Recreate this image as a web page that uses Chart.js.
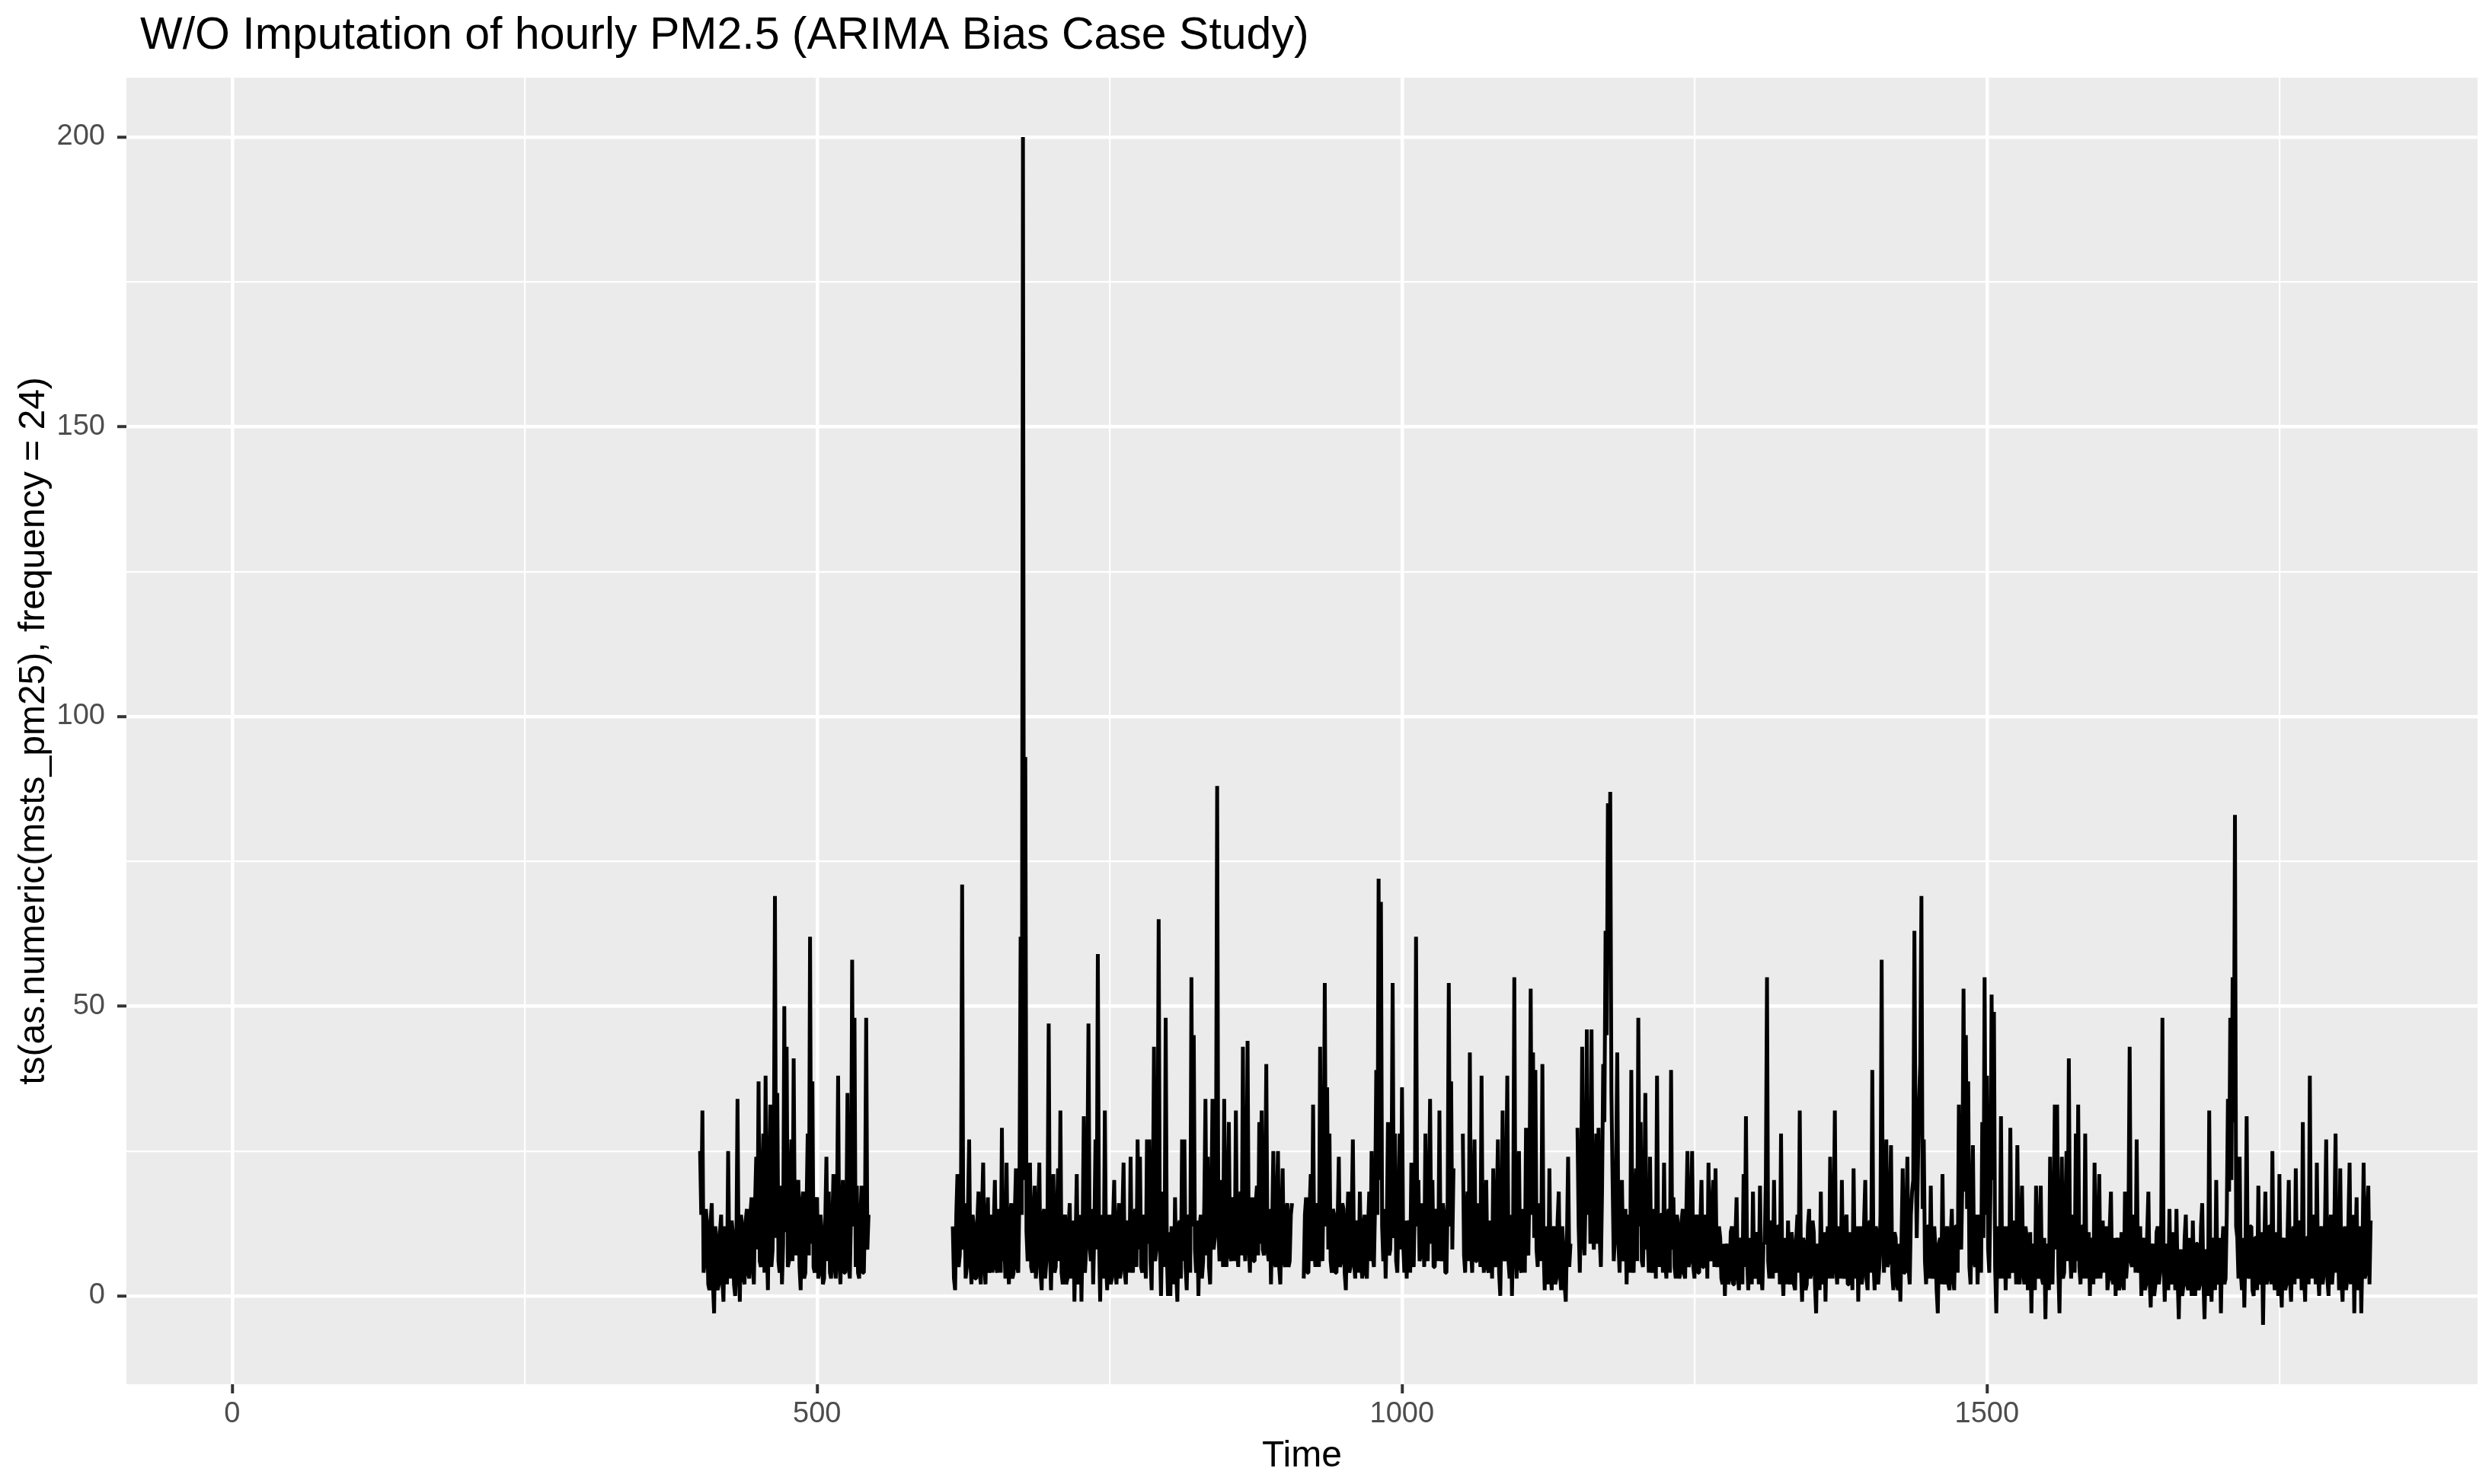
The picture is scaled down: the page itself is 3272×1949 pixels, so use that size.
<!doctype html>
<html>

<head>
    <meta charset="utf-8">
    <title>W/O Imputation of hourly PM2.5</title>
    <script src="https://cdn.jsdelivr.net/npm/chart.js"></script>
    <style>
        html, body { margin: 0; padding: 0; background: #fff; }
    </style>
</head>

<body>
    <canvas id="grafico" width="3272" height="1949"></canvas>

    <script>
        // textos
        var titulo = 'W/O Imputation of hourly PM2.5 (ARIMA Bias Case Study)';
        var tituloX = 'Time';
        var tituloY = 'ts(as.numeric(msts_pm25), frequency = 24)';

        // ticks (maiores com rotulo, menores so com linha)
        var ticksX = [0, 250, 500, 750, 1000, 1250, 1500, 1750];
        var rotulosX = [0, 500, 1000, 1500];
        var ticksY = [0, 25, 50, 75, 100, 125, 150, 175, 200];
        var rotulosY = [0, 50, 100, 150, 200];

        // serie: cada trecho tem inicio e um valor por unidade de tempo
        var passo = 1;

        var inicioA = 400;
        var serieA = [
            25, 14, 32, 4, 6, 15, 12, 2, 1, 13,
            16, 2, -3, 12, 10, 1, 2, 11, 14, 3,
            -1, 12, 9, 2, 25, 6, 3, 13, 11, 2,
            0, 8, 34, 5, -1, 14, 12, 3, 2, 13,
            15, 4, 3, 14, 17, 5, 2, 16, 24, 8,
            37, 6, 5, 19, 28, 4, 38, 9, 1, 18,
            33, 5, 8, 22, 69, 10, 35, 6, 4, 19,
            2, 9, 50, 11, 43, 5, 6, 18, 27, 6,
            41, 10, 7, 17, 20, 5, 1, 16, 18, 3,
            4, 15, 28, 7, 62, 9, 37, 5, 4, 16,
            17, 3, 4, 14, 11, 2, 3, 13, 24, 6,
            18, 4, 3, 12, 21, 5, 3, 14, 38, 6,
            2, 13, 20, 4, 4, 12, 35, 5, 3, 14,
            58, 12, 48, 5, 19, 4, 3, 13, 19, 4,
            4, 15, 48, 8, 14
        ];

        var inicioB = 616;
        var serieB = [
            12, 3, 1, 14, 21, 5, 7, 16, 71, 8,
            16, 3, 5, 15, 27, 6, 2, 14, 12, 3,
            3, 13, 18, 4, 2, 15, 23, 5, 2, 13,
            17, 4, 5, 14, 4, 12, 20, 5, 4, 15,
            12, 4, 29, 6, 10, 3, 23, 6, 2, 13,
            16, 3, 4, 14, 22, 5, 4, 18, 62, 14,
            200, 20, 93, 11, 6, 17, 23, 5, 4, 14,
            19, 3, 6, 15, 23, 4, 1, 13, 15, 3,
            6, 14, 47, 8, 1, 12, 21, 4, 5, 14,
            22, 6, 32, 4, 2, 13, 14, 2, 3, 12,
            16, 3, 5, 13, -1, 10, 21, 2, 4, 14,
            -1, 11, 31, 4, 8, 20, 47, 9, 6, 15,
            2, 11, 27, 8, 59, 10, -1, 14, 12, 3,
            32, 6, 1, 12, 14, 2, 3, 13, 20, 4,
            2, 12, 16, 3, 5, 14, 23, 4, 2, 13,
            12, 4, 24, 6, 4, 13, 15, 5, 27, 8,
            24, 5, 4, 14, 12, 3, 27, 9, 27, 6,
            1, 15, 43, 6, 8, 18, 65, 10, 0, 12,
            18, 5, 48, 7, 0, 11, 0, 12, 9, 2,
            17, 4, -1, 12, 13, 3, 27, 6, 27, 5,
            1, 13, 14, 4, 55, 12, 45, 8, 4, 13,
            0, 12, 14, 3, 6, 16, 34, 7, 24, 5,
            2, 15, 34, 8, 10, 22, 88, 12, 6, 16,
            20, 5, 34, 9, 5, 16, 30, 7, 6, 17,
            16, 6, 32, 8, 5, 15, 18, 7, 43, 10,
            6, 17, 44, 9, 4, 14, 17, 6, 6, 16,
            19, 7, 30, 9, 32, 8, 7, 18, 40, 8,
            6, 15, 2, 12, 25, 6, 5, 16, 25, 5,
            2, 13, 22, 6, 5, 15, 16, 5, 6, 14,
            16
        ];

        var inicioC = 916;
        var serieC = [
            3, 14, 17, 4, 4, 15, 21, 6, 33, 8,
            5, 16, 15, 5, 43, 9, 6, 20, 54, 12,
            36, 8, 28, 6, 4, 15, 14, 4, 4, 13,
            24, 5, 6, 16, 15, 4, 1, 12, 18, 4,
            5, 14, 27, 6, 3, 13, 12, 4, 18, 6,
            3, 12, 14, 4, 3, 12, 18, 6, 25, 7,
            5, 16, 39, 14, 72, 20, 68, 12, 6, 15,
            3, 12, 30, 7, 8, 19, 54, 10, 28, 6,
            4, 14, 28, 8, 36, 9, 4, 13, 3, 12,
            13, 4, 23, 7, 5, 16, 62, 12, 20, 6,
            7, 16, 12, 5, 28, 8, 6, 17, 34, 9,
            20, 5, 5, 15, 14, 6, 32, 8, 6, 16,
            14, 4, 4, 16, 54, 12, 37, 8, 22
        ];

        var inicioD = 1052;
        var serieD = [
            28, 7, 4, 14, 18, 6, 42, 8, 4, 15,
            27, 6, 6, 16, 12, 5, 38, 8, 4, 14,
            20, 5, 4, 13, 11, 3, 22, 6, 5, 15,
            27, 4, 0, 12, 32, 7, 6, 18, 38, 6,
            3, 14, 0, 12, 55, 9, 3, 14, 25, 5,
            4, 15, 13, 4, 29, 8, 7, 20, 53, 14,
            42, 10, 39, 8, 5, 16, 14, 6, 40, 8,
            1, 12, 10, 2, 22, 5, 1, 11, 12, 2,
            3, 13, 18, 4, 1, 12, 8, 2, -1, 10,
            24, 5, 9
        ];

        var inicioE = 1150;
        var serieE = [
            29, 12, 4, 16, 43, 10, 7, 18, 46, 14, 30, 9, 46, 12, 8, 17, 28, 9, 29, 10,
            5, 18, 40, 30, 63, 45, 85, 60, 87, 35, 20, 6, 10, 22, 42, 9, 4, 14, 20, 6,
            7, 15, 2, 12, 14, 4, 39, 8, 4, 15, 22, 6, 48, 12, 30, 6, 5, 16, 35, 8,
            10, 4, 24, 6, 4, 15, 12, 3, 38, 8, 5, 14, 14, 4, 23, 6, 3, 13, 15, 4,
            39, 8, 17, 5, 3, 14, 12, 3, 4, 13, 15, 4, 3, 14, 25, 5, 6, 16, 25, 5,
            3, 13, 14, 4, 4, 12, 20, 5, 5, 14, 13, 3, 23, 7, 6, 15, 20, 5, 22, 6,
            5, 12, 10, 3, 2, 9, 0, 8, 9, 2, 3, 11, 12, 2, 2, 10, 17, 4, 1, 9,
            10, 2, 21, 5, 31, 6, 1, 10, 8, 2, 18, 4, 3, 11, 10, 2, 19, 4, 1, 9,
            9, 20, 55, 6, 3, 13, 12, 3, 20, 5, 4, 12, 12, 2, 28, 5, 0, 10, 8, 2,
            13, 3, 2, 11, 9, 2, 1, 10, 14, 4, 32, 5, -1, 10, 9, 1, 2, 12, 15, 3,
            4, 13, 11, 2, -3, 9, 8, 1, 18, 4, 2, 11, -1, 9, 12, 3, 24, 6, 3, 12,
            32, 5, 2, 12, 10, 3, 20, 4, 3, 13, 14, 2, 2, 11, 9, 1, 22, 5, 3, 12,
            -1, 10, 12, 2, 4, 13, 20, 3, 1, 12, 13, 4, 39, 6, 1, 12, 11, 2, 5, 14,
            58, 10, 4, 14, 27, 5, 6, 16, 26, 4, 1, 11, 10, 2, 1, 9, -1, 10, 22, 4,
            4, 13, 24, 5, 2, 14, 18, 20, 63, 25, 10, 22, 34, 40, 69, 15, 27, 6, 2, 12,
            12, 3, 19, 4, 3, 12, 8, 1, -3, 9, 10, 2, 21, 4, 2, 11, 12, 2, 1, 10,
            15, 3, 1, 12, 12, 4, 33, 10, 8, 20, 53, 18, 45, 15, 37, 5, 2, 14, 26, 6,
            5, 14, 2, 10, 14, 4, 30, 10, 55, 14, 38, 8, 4, 18, 52, 20, 49, 5, -3, 9,
            12, 3, 31, 5, 3, 12, 1, 10, 12, 3, 29, 5, 4, 13, 10, 2, 26, 5, 2, 11,
            19, 4, 2, 12, 10, 1, 4, 11, -3, 9, 8, 1, 19, 4, 3, 12, 19, 3, 2, 10,
            -4, 8, 9, 1, 24, 4, 2, 13, 33, 8, 33, 5, -3, 10, 24, 3, 4, 14, 25, 6,
            41, 8, 3, 14, 12, 4, 28, 6, 33, 5, 2, 12, 12, 3, 28, 5, 3, 11, 0, 9,
            10, 2, 23, 4, 3, 12, 21, 3, 6, 13, 4, 11, 12, 1, 3, 12, 18, 3, 2, 10,
            0, 9, 10, 1, 2, 11, 8, 1, 18, 3, 6, 14, 43, 6, 5, 14, 12, 4, 27, 6,
            4, 12, 0, 9, 10, 1, 2, 11, 18, 3, -2, 8, 9, 0, 2, 11, 12, 2, 4, 13,
            48, 6, -1, 9, 8, 1, 15, 3, 2, 11, 9, 1, 15, 3, -4, 7, 8, 0, 2, 10,
            14, 2, 1, 10, 6, 0, 13, 3, 0, 9, 9, 1, 2, 12, 16, 3, -4, 7, 8, 0,
            32, 4, -1, 9, 10, 1, 20, 3, 2, 10, -3, 8, 12, 2, 3, 14, 34, 18, 48, 20,
            55, 30, 83, 12, 10, 3, 24, 4, 1, 10, -2, 8, 31, 4, 3, 12, 12, 1, 0, 10,
            10, 1, 19, 3, 2, 11, -5, 8, 18, 2, 3, 12, 12, 2, 25, 4, 1, 11, 8, 0,
            21, 3, -2, 9, 10, 1, 2, 11, 20, 3, -1, 10, 12, 2, 22, 4, 3, 13, 12, 1,
            30, 4, -1, 10, 10, 2, 38, 5, 3, 12, 14, 2, 23, 4, 0, 11, 12, 2, 4, 13,
            27, 3, 0, 11, 14, 2, 5, 13, 28, 4, 10, 1, 22, 3, -1, 10, 12, 1, 3, 13,
            23, 2, 6, 14, -3, 9, 17, 1, 2, 12, -3, 8, 23, 3, 4, 14, 19, 2, 13
        ];

        var trechos = [
            [inicioA, serieA],
            [inicioB, serieB],
            [inicioC, serieC],
            [inicioD, serieD],
            [inicioE, serieE]
        ];

        // monta os pontos; um null entre trechos quebra a linha (NA da serie)
        var pontos = [];
        trechos.forEach(function (trecho, k) {
            if (k > 0) {
                pontos.push({ x: trecho[0] - 0.5, y: null });
            }
            trecho[1].forEach(function (valor, i) {
                pontos.push({ x: trecho[0] + i * passo, y: valor });
            });
        });

        var fonte = '"Liberation Sans", Arial, Helvetica, sans-serif';

        // fundo cinza do painel e titulo no estilo ggplot
        var painel = {
            id: 'painel',
            beforeDraw: function (chart) {
                var ctx = chart.ctx;
                var area = chart.chartArea;
                ctx.save();
                ctx.fillStyle = '#ffffff';
                ctx.fillRect(0, 0, chart.width, chart.height);
                ctx.fillStyle = '#EBEBEB';
                ctx.fillRect(area.left, area.top, area.right - area.left, area.bottom - area.top);
                ctx.fillStyle = '#000000';
                ctx.font = '59px ' + fonte;
                ctx.textAlign = 'left';
                ctx.textBaseline = 'alphabetic';
                ctx.fillText(titulo, 184, 64);
                ctx.restore();
            }
        };

        function grade(maiores) {
            return {
                color: '#ffffff',
                lineWidth: function (c) { return maiores.indexOf(c.tick.value) >= 0 ? 4.5 : 2.25; },
                tickColor: function (c) { return maiores.indexOf(c.tick.value) >= 0 ? '#333333' : 'rgba(0,0,0,0)'; },
                tickWidth: 4,
                tickLength: 12,
                drawTicks: true
            };
        }

        Chart.defaults.font.family = fonte;

        var grafico = new Chart(document.getElementById('grafico').getContext('2d'), {
            type: 'line',
            data: {
                datasets: [{
                    label: 'pm25',
                    data: pontos,
                    borderColor: '#000000',
                    borderWidth: 5,
                    borderJoinStyle: 'bevel',
                    borderCapStyle: 'butt',
                    pointRadius: 0,
                    tension: 0,
                    spanGaps: false
                }]
            },
            options: {
                responsive: false,
                devicePixelRatio: 1,
                animation: false,
                layout: {
                    padding: { top: 102, right: 19, bottom: 0, left: 0 }
                },
                plugins: {
                    legend: { display: false },
                    tooltip: { enabled: false },
                    title: { display: false }
                },
                scales: {
                    x: {
                        type: 'linear',
                        min: -90.35,
                        max: 1919.35,
                        border: { display: false },
                        grid: grade(rotulosX),
                        afterBuildTicks: function (escala) {
                            escala.ticks = ticksX.map(function (v) { return { value: v }; });
                        },
                        afterFit: function (escala) { escala.height = 131; },
                        ticks: {
                            autoSkip: false,
                            maxRotation: 0,
                            padding: 5,
                            color: '#4D4D4D',
                            font: { size: 38 },
                            callback: function (v) { return rotulosX.indexOf(v) >= 0 ? String(v) : ''; }
                        },
                        title: {
                            display: true,
                            text: tituloX,
                            color: '#000000',
                            font: { size: 48 },
                            padding: { top: 0, bottom: 7 }
                        }
                    },
                    y: {
                        type: 'linear',
                        min: -15.25,
                        max: 210.25,
                        border: { display: false },
                        grid: grade(rotulosY),
                        afterBuildTicks: function (escala) {
                            escala.ticks = ticksY.map(function (v) { return { value: v }; });
                        },
                        afterFit: function (escala) { escala.width = 166; },
                        ticks: {
                            autoSkip: false,
                            padding: 16,
                            color: '#4D4D4D',
                            font: { size: 38 },
                            callback: function (v) { return rotulosY.indexOf(v) >= 0 ? String(v) : ''; }
                        },
                        title: {
                            display: true,
                            text: tituloY,
                            color: '#000000',
                            font: { size: 48 },
                            padding: { top: 16, bottom: 0 }
                        }
                    }
                }
            },
            plugins: [painel]
        });
    </script>
</body>

</html>
